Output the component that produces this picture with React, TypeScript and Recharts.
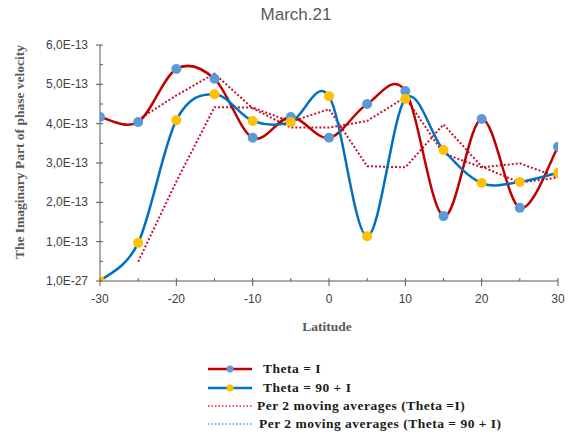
import React from 'react';
import { LineChart, Line, XAxis, YAxis } from 'recharts';

const latitudes = [-30, -25, -20, -15, -10, -5, 0, 5, 10, 15, 20, 25, 30];
const thetaI = [4.17, 4.04, 5.39, 5.14, 3.64, 4.17, 3.64, 4.5, 4.83, 1.65, 4.12, 1.86, 3.41];
const theta90 = [0.0, 0.97, 4.09, 4.75, 4.07, 4.04, 4.7, 1.14, 4.63, 3.33, 2.49, 2.52, 2.75];
const maThetaI = [null, 4.1, 4.72, 5.27, 4.39, 3.9, 3.9, 4.07, 4.67, 3.24, 2.89, 2.99, 2.64];
const maTheta90 = [null, 0.49, 2.53, 4.42, 4.41, 4.05, 4.37, 2.92, 2.89, 3.98, 2.91, 2.5, 2.63];
const xTicks = [-30, -25, -20, -15, -10, -5, 0, 5, 10, 15, 20, 25, 30];
const yTicks = [0, 0.5, 1, 1.5, 2, 2.5, 3, 3.5, 4, 4.5, 5, 5.5, 6];
const yLabels: Record<number, string> = {
  0: '1,0E-27', 1: '1,0E-13', 2: '2,0E-13', 3: '3,0E-13', 4: '4,0E-13', 5: '5,0E-13', 6: '6,0E-13',
};

const data = latitudes.map((lat, i) => ({
  lat,
  a: thetaI[i],
  b: theta90[i],
  ma: maThetaI[i],
  mb: maTheta90[i],
}));

const RED = '#C00000';
const DOT_RED = '#C8102E';
const BLUE = '#0070C0';
const BLUE_MK = '#5B9BD5';
const YEL_MK = '#FFC000';
const AXIS = '#595959';

// Excel-like smoothing (Catmull-Rom style Bezier)
const excelCurve: any = (context: any) => {
  let pts: [number, number][] = [];
  return {
    areaStart() {},
    areaEnd() {},
    lineStart() {
      pts = [];
    },
    point(x: number, y: number) {
      pts.push([+x, +y]);
    },
    lineEnd() {
      const n = pts.length;
      if (!n) return;
      context.moveTo(pts[0][0], pts[0][1]);
      for (let i = 0; i < n - 1; i++) {
        const p0 = pts[i - 1] || pts[i];
        const p1 = pts[i];
        const p2 = pts[i + 1];
        const p3 = pts[i + 2] || p2;
        context.bezierCurveTo(
          p1[0] + (p2[0] - p0[0]) / 6,
          p1[1] + (p2[1] - p0[1]) / 6,
          p2[0] - (p3[0] - p1[0]) / 6,
          p2[1] - (p3[1] - p1[1]) / 6,
          p2[0],
          p2[1]
        );
      }
    },
  };
};

const XTick = (props: any) => {
  const { x, y, payload } = props;
  const v = payload.value;
  const major = v % 10 === 0;
  return (
    <g>
      <line x1={x} x2={x} y1={y - 3} y2={major ? y + 5 : y} stroke={AXIS} strokeWidth={1} />
      {major && (
        <text x={x} y={y + 22} textAnchor="middle" fontSize={12} fontFamily="Liberation Sans, Arial, sans-serif" fill="#404040">
          {v}
        </text>
      )}
    </g>
  );
};

const YTick = (props: any) => {
  const { x, y, payload } = props;
  const v = payload.value;
  const major = Number.isInteger(v);
  return (
    <g>
      <line x1={major ? x - 4 : x} x2={x + 3} y1={y} y2={y} stroke={AXIS} strokeWidth={1} />
      {major && (
        <text x={x - 12} y={y + 4} textAnchor="end" fontSize={12} fontFamily="Liberation Sans, Arial, sans-serif" fill="#404040">
          {yLabels[v]}
        </text>
      )}
    </g>
  );
};

const serifBold: React.CSSProperties = {
  fontFamily: '"Liberation Serif", "Times New Roman", serif',
  fontWeight: 'bold',
};

const LegendRow = ({ top, textLeft, kind, label }: { top: number; textLeft: number; kind: number; label: string }) => {
  return (
    <>
      <svg style={{ position: 'absolute', left: 205, top: top - 6 }} width={52} height={12}>
        {kind === 0 && (
          <>
            <line x1={3} x2={47} y1={6} y2={6} stroke={RED} strokeWidth={2.5} />
            <circle cx={25} cy={6} r={3.5} fill={BLUE_MK} />
          </>
        )}
        {kind === 1 && (
          <>
            <line x1={3} x2={47} y1={6} y2={6} stroke={BLUE} strokeWidth={2.5} />
            <circle cx={25} cy={6} r={3.5} fill={YEL_MK} />
          </>
        )}
        {kind === 2 && <line x1={3} x2={47} y1={6} y2={6} stroke="#E03030" strokeWidth={1.5} strokeDasharray="1.5 2" />}
        {kind === 3 && <line x1={3} x2={47} y1={6} y2={6} stroke="#4FA3E0" strokeWidth={1.5} strokeDasharray="1.5 2" />}
      </svg>
      <div
        style={{
          ...serifBold,
          position: 'absolute',
          left: textLeft,
          top: top - 9,
          fontSize: 13.5,
          lineHeight: '18px',
          letterSpacing: 0.5,
          color: '#1a1a1a',
          whiteSpace: 'nowrap',
        }}
      >
        {label}
      </div>
    </>
  );
};

export default function App() {
  return (
    <div style={{ position: 'absolute', left: 0, top: 0, width: 570, height: 435, background: '#fff', overflow: 'hidden' }}>
      <LineChart width={570} height={435} data={data} margin={{ top: 45, right: 12, bottom: 124, left: 40 }}>
        <XAxis
          type="number"
          dataKey="lat"
          domain={[-30, 30]}
          ticks={xTicks}
          interval={0}
          height={30}
          tickSize={0}
          tickMargin={0}
          tickLine={false}
          tick={<XTick />}
          axisLine={{ stroke: AXIS, strokeWidth: 1 }}
          allowDataOverflow
        />
        <YAxis
          type="number"
          domain={[0, 6]}
          ticks={yTicks}
          interval={0}
          width={60}
          tickSize={0}
          tickMargin={0}
          tickLine={false}
          tick={<YTick />}
          axisLine={{ stroke: AXIS, strokeWidth: 1 }}
          allowDataOverflow
        />
        <Line dataKey="ma" type="linear" stroke={DOT_RED} strokeWidth={2} strokeDasharray="2 2" dot={false} activeDot={false} isAnimationActive={false} />
        <Line dataKey="mb" type="linear" stroke={DOT_RED} strokeWidth={2} strokeDasharray="2 2" dot={false} activeDot={false} isAnimationActive={false} />
        <Line
          dataKey="a"
          type={excelCurve}
          stroke={RED}
          strokeWidth={2.5}
          dot={{ r: 5, fill: BLUE_MK, stroke: BLUE_MK, strokeWidth: 0 }}
          activeDot={false}
          isAnimationActive={false}
        />
        <Line
          dataKey="b"
          type={excelCurve}
          stroke={BLUE}
          strokeWidth={2.5}
          dot={{ r: 5, fill: YEL_MK, stroke: YEL_MK, strokeWidth: 0 }}
          activeDot={false}
          isAnimationActive={false}
        />
      </LineChart>

      <div
        style={{
          position: 'absolute',
          left: 196,
          width: 200,
          top: 5,
          textAlign: 'center',
          fontFamily: '"Liberation Sans", Arial, sans-serif',
          fontSize: 17,
          color: '#595959',
        }}
      >
        March.21
      </div>

      <div
        style={{
          ...serifBold,
          position: 'absolute',
          left: 20 - 140,
          top: 152 - 9,
          width: 280,
          height: 18,
          lineHeight: '18px',
          textAlign: 'center',
          fontSize: 13.5,
          color: '#595959',
          transform: 'rotate(-90deg)',
          whiteSpace: 'nowrap',
        }}
      >
        The Imaginary Part of phase velocity
      </div>

      <div
        style={{
          ...serifBold,
          position: 'absolute',
          left: 327 - 60,
          top: 327 - 9,
          width: 120,
          lineHeight: '18px',
          textAlign: 'center',
          fontSize: 13.5,
          color: '#595959',
        }}
      >
        Latitude
      </div>

      <LegendRow top={369} textLeft={263} kind={0} label="Theta = I" />
      <LegendRow top={388} textLeft={263} kind={1} label="Theta = 90 + I" />
      <LegendRow top={406} textLeft={257} kind={2} label="Per 2 moving averages (Theta =I)" />
      <LegendRow top={424} textLeft={259} kind={3} label="Per 2 moving averages (Theta = 90 + I)" />
    </div>
  );
}
